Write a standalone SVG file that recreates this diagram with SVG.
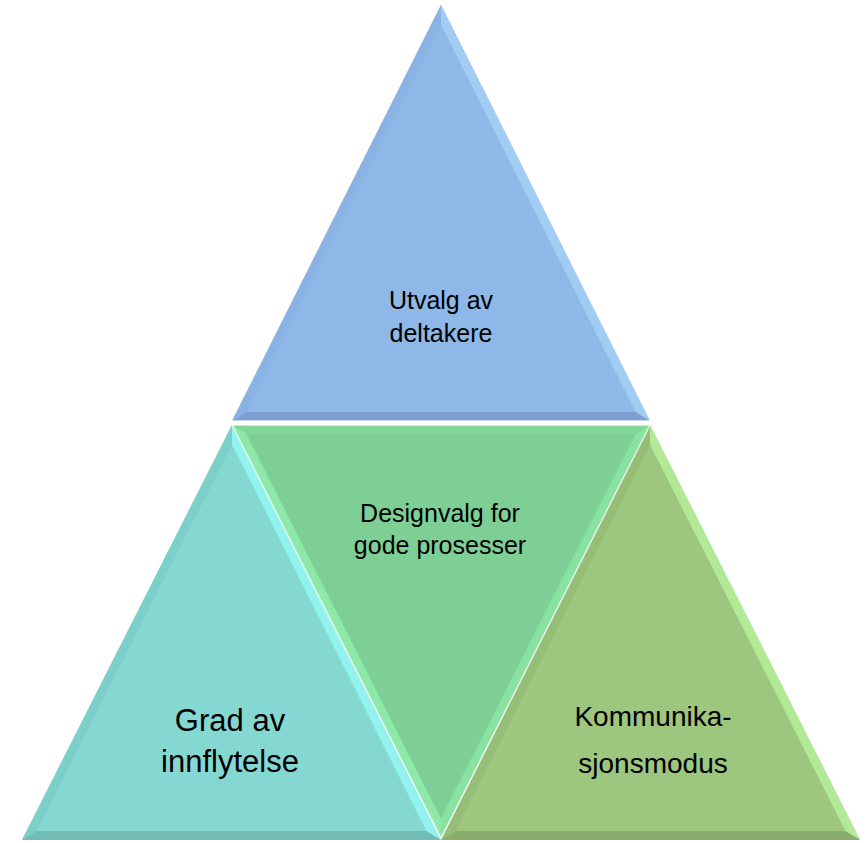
<svg xmlns="http://www.w3.org/2000/svg" width="866" height="843" viewBox="0 0 866 843">
<defs>
<style>
.lbl{font-family:"Liberation Sans",Arial,sans-serif;fill:#000;text-anchor:middle}
.edge{fill:none;stroke:#ffffff;stroke-opacity:0.75;stroke-width:1.5;stroke-linejoin:miter}
</style>
</defs>
<rect width="866" height="843" fill="#ffffff"/>
<g id="top">
<polygon points="441,5 232,421 650,421" fill="#8db8e8"/>
<polygon points="441,5 232,421 246.6,412 441,25.1" fill="#8ab3e3"/>
<polygon points="441,5 650,421 635.4,412 441,25.1" fill="#a3ccf5"/>
<polygon points="232,421 650,421 635.4,412 246.6,412" fill="#7f9fd3"/>
<polygon points="441,25.1 246.6,412 635.4,412" fill="#8db8e8"/>
<polyline class="edge" points="232,421 650,421"/>
<text class="lbl" x="441" y="309" font-size="25">Utvalg av</text>
<text class="lbl" x="441" y="342" font-size="25">deltakere</text>
</g>
<g id="left">
<polygon points="232,425 22,840 441,840" fill="#82d8d0"/>
<polygon points="232,425 22,840 36.7,831 232,445" fill="#7dd0c9"/>
<polygon points="232,425 441,840 426.3,831 232,445" fill="#92f2ee"/>
<polygon points="22,840 441,840 426.3,831 36.7,831" fill="#72bdb5"/>
<polygon points="232,445 36.7,831 426.3,831" fill="#84d8d1"/>
<text class="lbl" x="230" y="731" font-size="31">Grad av</text>
<text class="lbl" x="230" y="772" font-size="31">innflytelse</text>
</g>
<g id="right">
<polygon points="650,425 441,840 860,840" fill="#9dc67f"/>
<polygon points="650,425 441,840 455.6,831 650,445" fill="#96be77"/>
<polygon points="650,425 860,840 845.3,831 650,445" fill="#b2e996"/>
<polygon points="441,840 860,840 845.3,831 455.6,831" fill="#89ad6d"/>
<polygon points="650,445 455.6,831 845.3,831" fill="#9dc67f"/>
<text class="lbl" x="653" y="726" font-size="28">Kommunika-</text>
<text class="lbl" x="653" y="773" font-size="28">sjonsmodus</text>
</g>
<g id="middle">
<polygon points="232,425 650,425 441,838" fill="#7ecf95"/>
<polygon points="232,425 650,425 635.4,434 246.6,434" fill="#84d79b"/>
<polygon points="232,425 441,838 441,818.1 246.6,434" fill="#8ee8a8"/>
<polygon points="650,425 441,838 441,818.1 635.4,434" fill="#88e2a0"/>
<polygon points="246.6,434 635.4,434 441,818.1" fill="#7ecf95"/>
<text class="lbl" x="440" y="522" font-size="25">Designvalg for</text>
<text class="lbl" x="440" y="554" font-size="25">gode prosesser</text>
</g>
<g id="connectors">
<polyline class="edge" points="232,425 441,838 650,425 232,425"/>
</g>
</svg>
